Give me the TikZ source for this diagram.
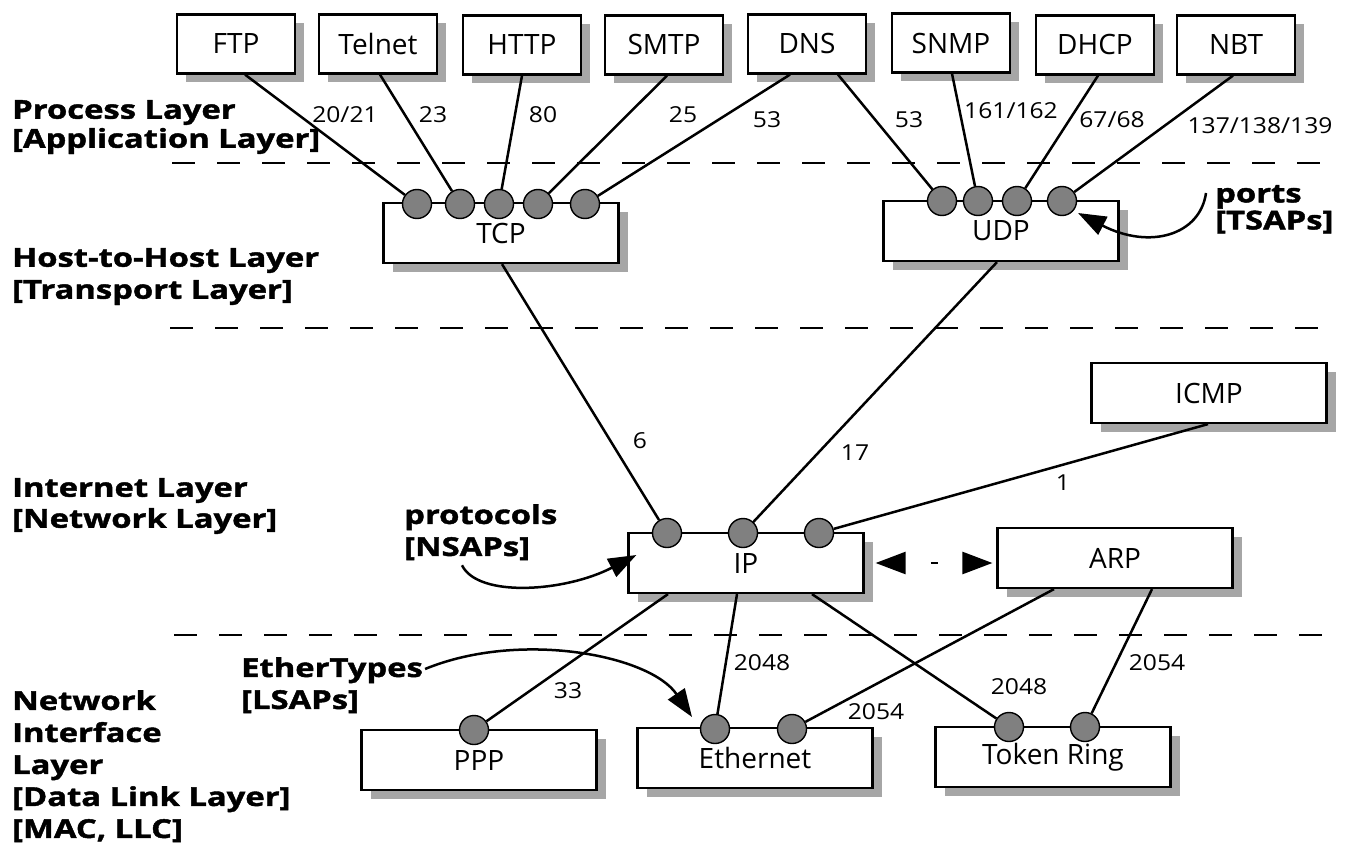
\documentclass[tikz,border=0pt]{standalone}
\usepackage{fontspec}
\setmainfont{Open Sans}
\newfontfamily\boxfont{Open Sans}
\newfontfamily\numfont{Open Sans}[FakeStretch=1.12]
\newfontfamily\layerfont{Open Sans}[FakeStretch=1.26, BoldFeatures={FakeBold=1.6}]
\usetikzlibrary{shadows,arrows.meta,calc}
\begin{document}
\begin{tikzpicture}[x=1pt,y=-1pt,
  box/.style={draw, line width=2.2pt, fill=white, minimum width=118pt, minimum height=59pt, inner sep=0pt,
    font=\boxfont\fontsize{28}{28}\selectfont,
    drop shadow={shadow xshift=9pt, shadow yshift=-9pt, fill=black!35, opacity=1}},
  wbox/.style={box, minimum width=235pt, minimum height=60pt},
  port/.style={circle, draw, line width=1.4pt, fill=black!50, minimum size=29pt, inner sep=0pt},
  conn/.style={line width=2.5pt},
  num/.style={font=\numfont\fontsize{22}{22}\selectfont, inner sep=0pt},
  layer/.style={anchor=north west, inner sep=0pt, align=left},
  lfont/.style={font=\layerfont\bfseries\fontsize{26}{#1}\selectfont},
  sep/.style={line width=2.2pt, dash pattern=on 23pt off 22pt},
  bigarrow/.style={line width=2.5pt, -{Triangle[length=28pt,width=20pt]}}
]
\useasboundingbox (0,0) rectangle (1348,848);

% layer separators
\draw[sep] (172,163) -- (1325,163);
\draw[sep] (170,328) -- (1325,328);
\draw[sep] (174,635) -- (1325,635);

% application boxes
\node[box] (ftp) at (236,44) {FTP};
\node[box] (telnet) at (378,44) {Telnet};
\node[box] (http) at (522,45) {HTTP};
\node[box] (smtp) at (664,45) {SMTP};
\node[box] (dns) at (807,44) {DNS};
\node[box] (snmp) at (951,43) {SNMP};
\node[box] (dhcp) at (1095,45) {DHCP};
\node[box] (nbt) at (1236,45) {NBT};

% protocol boxes
\node[wbox] (tcp) at (501,233) {TCP};
\node[wbox] (udp) at (1001,231) {UDP};
\node[wbox] (icmp) at (1209,393) {ICMP};
\node[wbox] (ip) at (746,563) {IP};
\node[wbox] (arp) at (1115,558) {ARP};
\node[wbox] (ppp) at (479,760) {PPP};
\node[wbox] (eth) at (755,758) {Ethernet};
\node[wbox] (tr) at (1053,757) {Token Ring};

% ports
\node[port] (t1) at (417,204) {};
\node[port] (t2) at (460,204) {};
\node[port] (t3) at (499,204) {};
\node[port] (t4) at (538,204) {};
\node[port] (t5) at (585,204) {};
\node[port] (u1) at (942,201) {};
\node[port] (u2) at (978,201) {};
\node[port] (u3) at (1017,201) {};
\node[port] (u4) at (1062,201) {};
\node[port] (i1) at (667,533) {};
\node[port] (i2) at (743,533) {};
\node[port] (i3) at (819,533) {};
\node[port] (p1) at (474,730) {};
\node[port] (e1) at (715,729) {};
\node[port] (e2) at (792,729) {};
\node[port] (r1) at (1009,727) {};
\node[port] (r2) at (1085,727) {};

% connectors
\draw[conn] ([xshift=9pt]ftp.south) -- (t1);
\draw[conn] ([xshift=2pt]telnet.south) -- (t2);
\draw[conn] (http.south) -- (t3);
\draw[conn] ([xshift=3pt]smtp.south) -- (t4);
\draw[conn] ([xshift=-17pt]dns.south) -- (t5);
\draw[conn] ([xshift=31pt]dns.south) -- (u1);
\draw[conn] ([xshift=1pt]snmp.south) -- (u2);
\draw[conn] ([xshift=3pt]dhcp.south) -- (u3);
\draw[conn] ([xshift=-3pt]nbt.south) -- (u4);
\draw[conn] ([xshift=1pt]tcp.south) -- (i1);
\draw[conn] ([xshift=-4pt]udp.south) -- (i2);
\draw[conn] ([xshift=-1pt]icmp.south) -- (i3);
\draw[conn] ([xshift=-78pt]ip.south) -- (p1);
\draw[conn] ([xshift=-9pt]ip.south) -- (e1);
\draw[conn] ([xshift=66pt]ip.south) -- (r1);
\draw[conn] ([xshift=-61pt]arp.south) -- (e2);
\draw[conn] ([xshift=37pt]arp.south) -- (r2);

% IP <-> ARP
\draw[line width=2.5pt, dash pattern=on 0pt off 26pt on 7pt off 100pt,
  {Triangle[length=30pt,width=22pt]}-{Triangle[length=30pt,width=22pt]}]
  ($(ip.east)+(11,0)$) -- ($(arp.west |- ip.east)+(-4,0)$);

% number labels
\node[num] (n1) at (345,115) {20/21};
\node[num] (n2) at (433,115) {23};
\node[num] (n3) at (543,115) {80};
\node[num] (n4) at (683,115) {25};
\node[num] (n5) at (767,120) {53};
\node[num] (n6) at (909,120) {53};
\node[num] (n7) at (1011,111) {161/162};
\node[num] (n8) at (1112,120) {67/68};
\node[num] (n9) at (1260,126) {137/138/139};
\node[num] (n10) at (640,441) {6};
\node[num] (n11) at (855,453) {17};
\node[num] (n12) at (1063,483) {1};
\node[num] (n13) at (568,691) {33};
\node[num] (n14) at (762,663) {2048};
\node[num] (n15) at (876,712) {2054};
\node[num] (n16) at (1019,687) {2048};
\node[num] (n17) at (1157,663) {2054};

% layer labels
\node[layer, lfont=29] (lproc) at (12,100) {Process Layer\\{[}Application Layer]};
\node[layer, lfont=32] (lhost) at (12,248) {Host-to-Host Layer\\{[}Transport Layer]};
\node[layer, lfont=31] (linet) at (12,478) {Internet Layer\\{[}Network Layer]};
\node[layer, lfont=32] (lnet) at (12,690) {Network\\Interface\\Layer\\{[}Data Link Layer]\\{[}MAC, LLC]};

% annotations
\node[layer, lfont=32] (lprot) at (404,504) {protocols\\{[}NSAPs]};
\node[layer, lfont=32] (leth) at (241,657) {EtherTypes\\{[}LSAPs]};
\node[layer, lfont=27] (lports) at (1215,185) {ports\\{[}TSAPs]};

\coordinate (pa) at ($(lprot.south west)+(58,5)$);
\draw[bigarrow] (pa) .. controls (478,598) and (565,592) .. ($(ip.west)+(9,-8)$);
\coordinate (ta) at ($(lports.north west)+(-9,8)$);
\draw[bigarrow] (ta) .. controls (1200,235) and (1150,250) .. ($(u4)+(16,12)$);
\coordinate (la) at ($(leth.north east)+(2,12)$);
\draw[bigarrow] (la) .. controls (520,630) and (650,655) .. ($(e1)+(-23,-12)$);
\end{tikzpicture}
\end{document}
